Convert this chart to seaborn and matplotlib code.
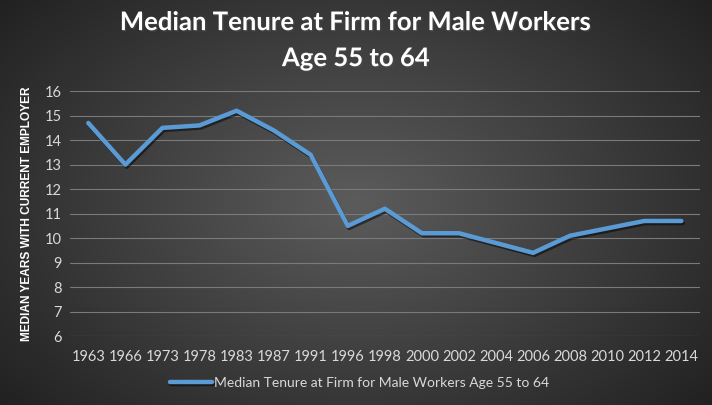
import numpy as np
import pandas as pd
import matplotlib
matplotlib.use("Agg")
import matplotlib.pyplot as plt
import matplotlib.patheffects as pe
import seaborn as sns

# data
years = ["1963", "1966", "1973", "1978", "1983", "1987", "1991", "1996", "1998",
         "2000", "2002", "2004", "2006", "2008", "2010", "2012", "2014"]
tenure = [14.7, 13.0, 14.5, 14.6, 15.2, 14.4, 13.4, 10.5, 11.2,
          10.2, 10.2, 9.8, 9.4, 10.1, 10.4, 10.7, 10.7]
y_ticks = [6, 7, 8, 9, 10, 11, 12, 13, 14, 15, 16]
series_name = "Median Tenure at Firm for Male Workers Age 55 to 64"

df = pd.DataFrame({"year": years, "tenure": tenure})

sns.set_theme(style="dark")
plt.rcParams["font.family"] = ["Lato", "DejaVu Sans"]

fig = plt.figure(figsize=(7.12, 4.05), dpi=100)

# radial gradient background
bg = fig.add_axes([0, 0, 1, 1], zorder=0)
gx, gy = np.meshgrid(np.linspace(-1, 1, 400), np.linspace(-1, 1, 240))
r = np.sqrt((gx / 1.05) ** 2 + (gy / 1.25) ** 2)
shade = 0.36 - 0.24 * np.clip(r, 0, 1.3) / 1.3
bg.imshow(np.dstack([shade] * 3), aspect="auto", extent=[0, 1, 0, 1])
bg.axis("off")

ax = fig.add_axes([0.098, 0.17, 0.885, 0.605], zorder=1)
ax.set_facecolor("none")

sns.lineplot(data=df, x="year", y="tenure", sort=False, ax=ax, color="#5b9bd5",
             linewidth=3.2, label=series_name,
             path_effects=[pe.SimpleLineShadow(offset=(1, -1.5), alpha=0.5, shadow_color="black"),
                           pe.Normal()])

ax.set_xlim(-0.5, len(years) - 0.5)
ax.set_ylim(6, 16)
ax.set_yticks(y_ticks)
ax.grid(axis="y", color="#7a7a7a", linewidth=0.8)
ax.grid(axis="x", visible=False)
for s in ax.spines.values():
    s.set_visible(False)
ax.tick_params(axis="both", colors="#d9d9d9", labelsize=10.5, length=0, pad=6)
ax.tick_params(axis="x", pad=10)
ax.set_xlabel("")
ax.set_ylabel("MEDIAN YEARS WITH CURRENT EMPLOYER", color="white", fontsize=8.6,
              fontweight="bold", labelpad=8, family=["Liberation Sans", "DejaVu Sans"])

fig.text(0.5, 0.975, "Median Tenure at Firm for Male Workers\nAge 55 to 64", ha="center",
         va="top", color="white", fontsize=18.5, fontweight="bold", linespacing=1.6,
         path_effects=[pe.withSimplePatchShadow(offset=(1, -1), alpha=0.6)])

leg = ax.legend(loc="center", bbox_to_anchor=(0.46, -0.19), frameon=False,
                fontsize=10, handlelength=3, handletextpad=0.2)
for t in leg.get_texts():
    t.set_color("#d9d9d9")

fig.savefig("out.png", dpi=100)
